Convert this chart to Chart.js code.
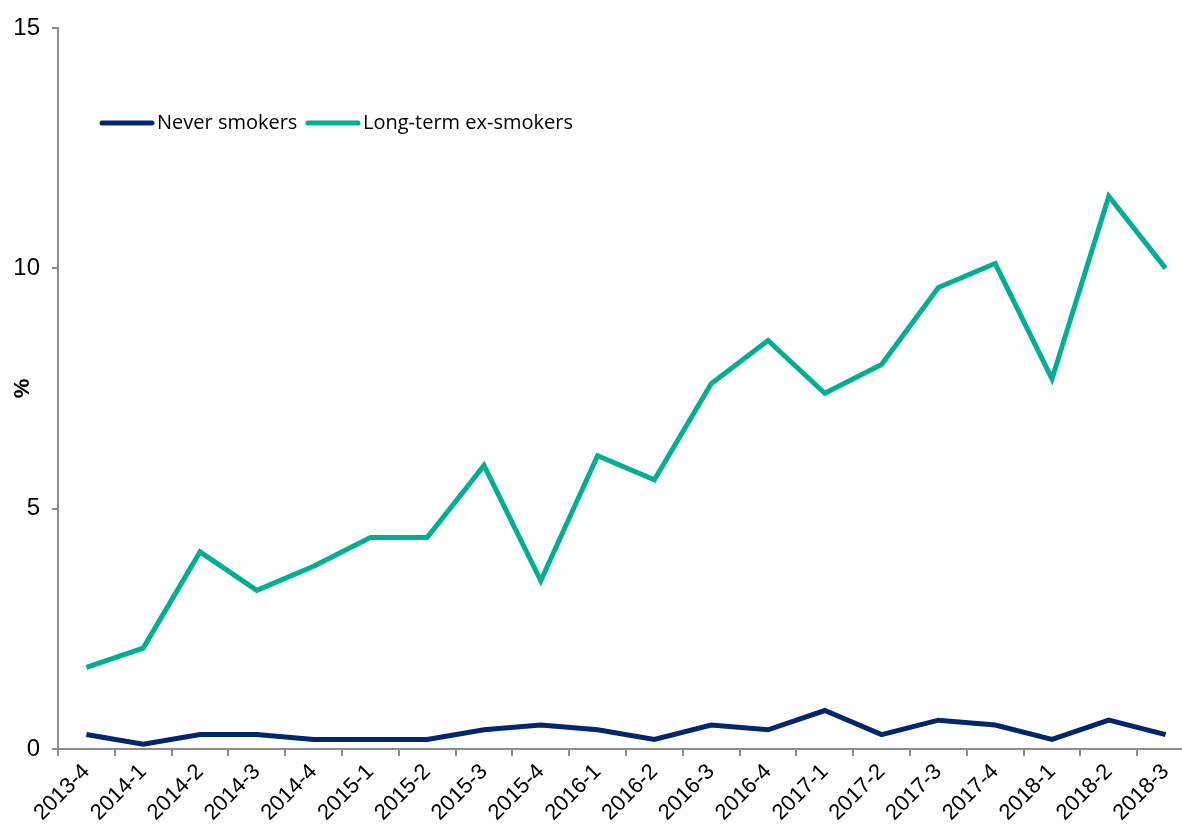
<!DOCTYPE html>
<html>
<head>
<meta charset="utf-8">
<script src="https://cdn.jsdelivr.net/npm/chart.js@4/dist/chart.umd.min.js"></script>
<style>
  html, body { margin: 0; padding: 0; background: #fff; overflow: hidden; }
  #wrap { width: 1194px; height: 830px; }
</style>
</head>
<body>
<div id="wrap"><canvas id="lineChart" width="1194" height="830"></canvas></div>
<script>
var quarters = ['2013-4','2014-1','2014-2','2014-3','2014-4','2015-1','2015-2','2015-3','2015-4',
  '2016-1','2016-2','2016-3','2016-4','2017-1','2017-2','2017-3','2017-4','2018-1','2018-2','2018-3'];
var neverSmokers = [0.3,0.1,0.3,0.3,0.2,0.2,0.2,0.4,0.5,0.4,0.2,0.5,0.4,0.8,0.3,0.6,0.5,0.2,0.6,0.3];
var exSmokers = [1.7,2.1,4.1,3.3,3.8,4.4,4.4,5.9,3.5,6.1,5.6,7.6,8.5,7.4,8.0,9.6,10.1,7.7,11.5,10.0];
var yTicks = [0, 5, 10, 15];

var axisGrey = '#8c8c8c';

// legend drawn inside the plot, like the original
var innerLegend = {
  id: 'innerLegend',
  afterDraw: function(chart) {
    var ctx = chart.ctx;
    var pos = [{x: 102, tx: 157}, {x: 308, tx: 363}];
    ctx.save();
    ctx.font = '20px "Open Sans", "Liberation Sans", sans-serif';
    ctx.textBaseline = 'middle';
    chart.data.datasets.forEach(function(ds, i) {
      ctx.strokeStyle = ds.borderColor;
      ctx.lineWidth = 5;
      ctx.lineCap = 'round';
      ctx.beginPath();
      ctx.moveTo(pos[i].x, 123);
      ctx.lineTo(pos[i].x + 50, 123);
      ctx.stroke();
      ctx.fillStyle = '#000';
      ctx.fillText(ds.label, pos[i].tx, 123);
    });
    ctx.restore();
  }
};

new Chart(document.getElementById('lineChart'), {
  type: 'line',
  data: {
    labels: quarters,
    datasets: [{
      label: 'Never smokers',
      data: neverSmokers,
      borderColor: '#00266b',
      backgroundColor: '#00266b',
      borderWidth: 5,
      pointRadius: 0,
      tension: 0
    }, {
      label: 'Long-term ex-smokers',
      data: exSmokers,
      borderColor: '#00ae92',
      backgroundColor: '#00ae92',
      borderWidth: 5,
      pointRadius: 0,
      tension: 0
    }]
  },
  options: {
    responsive: false,
    animation: false,
    layout: { padding: { top: 28, right: 0, bottom: 0, left: 0 } },
    plugins: {
      legend: { display: false },
      tooltip: { enabled: false }
    },
    scales: {
      x: {
        offset: true,
        grid: { display: true, offset: true, drawOnChartArea: false, drawTicks: true, tickLength: 7, color: axisGrey, lineWidth: 2 },
        border: { color: axisGrey, width: 2 },
        ticks: {
          color: '#000',
          font: { family: '"Liberation Sans", Arial, sans-serif', size: 22 },
          minRotation: 45, maxRotation: 45,
          autoSkip: false,
          padding: 3
        },
        afterFit: function(scale) { scale.height = 81; }
      },
      y: {
        min: 0, max: 15,
        afterBuildTicks: function(scale) {
          scale.ticks = yTicks.map(function(v) { return { value: v }; });
        },
        grid: { display: true, drawOnChartArea: false, drawTicks: true, tickLength: 6, color: axisGrey, lineWidth: 2 },
        border: { color: axisGrey, width: 2 },
        ticks: {
          color: '#000',
          font: { family: '"Liberation Sans", Arial, sans-serif', size: 24 },
          padding: 12
        },
        title: {
          display: true,
          text: '%',
          color: '#000',
          font: { family: '"Liberation Sans", Arial, sans-serif', size: 22, weight: 'bold' },
          padding: { top: 10, bottom: 0 }
        },
        afterFit: function(scale) { scale.width = 58; }
      }
    }
  },
  plugins: [innerLegend]
});
</script>
</body>
</html>
